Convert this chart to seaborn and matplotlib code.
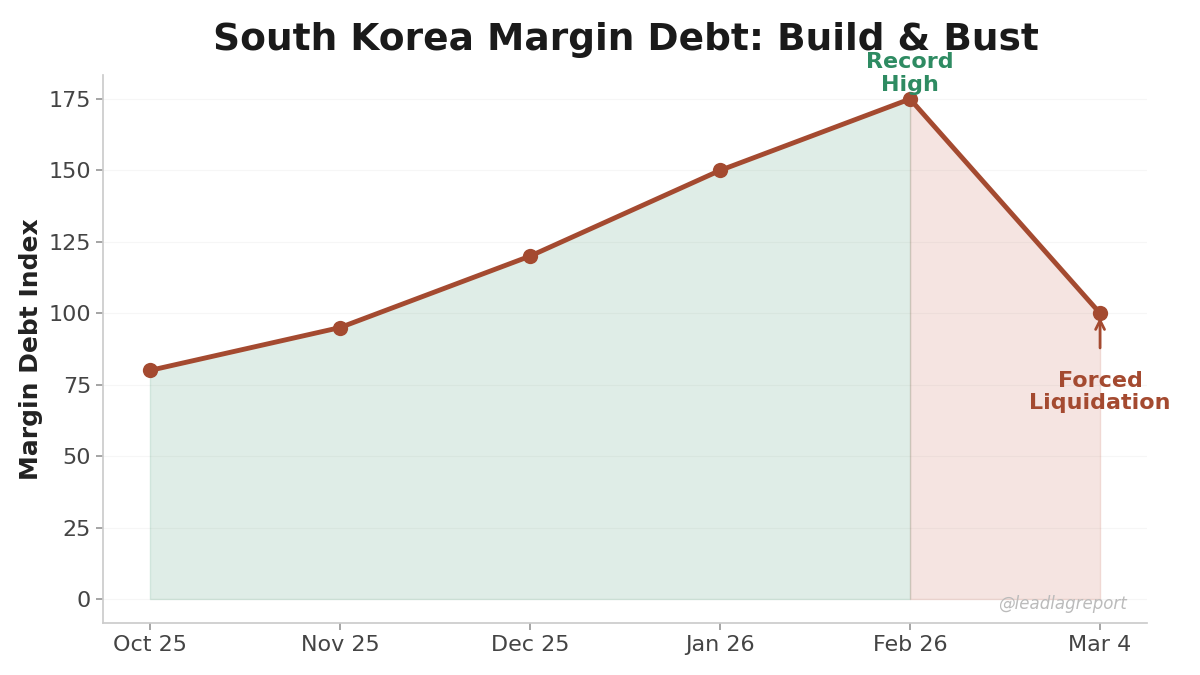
import matplotlib
matplotlib.use("Agg")
import matplotlib.pyplot as plt
import seaborn as sns
import pandas as pd

months = ["Oct 25", "Nov 25", "Dec 25", "Jan 26", "Feb 26", "Mar 4"]
values = [80, 95, 120, 150, 175, 100]

sns.set_theme(style="white")
plt.rcParams['font.family'] = ['DejaVu Sans']
df = pd.DataFrame({"x": range(len(months)), "v": values})

fig = plt.figure(figsize=(12, 6.75), dpi=100)
ax = fig.add_axes([103/1200, 1-623/675, (1147-103)/1200, (623-75)/675])
ax.fill_between(df.x[:5], df.v[:5], color="#2e8b62", alpha=0.15, edgecolor="#2e8b62", linewidth=1)
ax.fill_between(df.x[4:], df.v[4:], color="#c0503a", alpha=0.15, edgecolor="#c0503a", linewidth=1)
sns.lineplot(data=df, x="x", y="v", ax=ax, color="#a44a30", linewidth=3.5, marker="o",
             markersize=11, markeredgewidth=0)
ax.set_xlim(-0.247, 5.247)
ax.set_ylim(-8.4, 183.4)
ax.set_xticks(range(len(months)))
ax.set_xticklabels(months)
ax.set_yticks(range(0, 176, 25))
ax.tick_params(labelsize=16, colors="#444444", length=5, left=True, bottom=True, color="#999999")
ax.grid(axis="y", color="#eeeeee", linewidth=0.8, alpha=0.5)
for s in ["top", "right"]:
    ax.spines[s].set_visible(False)
for s in ["left", "bottom"]:
    ax.spines[s].set_color("#cccccc")
ax.set_xlabel("")
ax.set_ylabel("Margin Debt Index", fontsize=18, fontweight="bold", color="#222222")
fig.text(0.522, 0.94, "South Korea Margin Debt: Build & Bust", ha="center", va="center",
         fontsize=27, fontweight="bold", color="#1a1a1a")
ax.text(4, 176.5, "Record\nHigh", ha="center", va="bottom", fontsize=16, fontweight="bold",
        color="#2e8b62", linespacing=1.15)
ax.annotate("Forced\nLiquidation", xy=(5, 100), xytext=(5, 72.5), ha="center", va="center",
            fontsize=16, fontweight="bold", color="#a44a30", linespacing=1.15,
            arrowprops=dict(arrowstyle="->", color="#a44a30", lw=2, shrinkA=14, shrinkB=3))
ax.text(5.14, -5, "@leadlagreport", ha="right", va="bottom", fontsize=12, style="italic",
        color="#bbbbbb")
fig.savefig("out.png", dpi=100)
